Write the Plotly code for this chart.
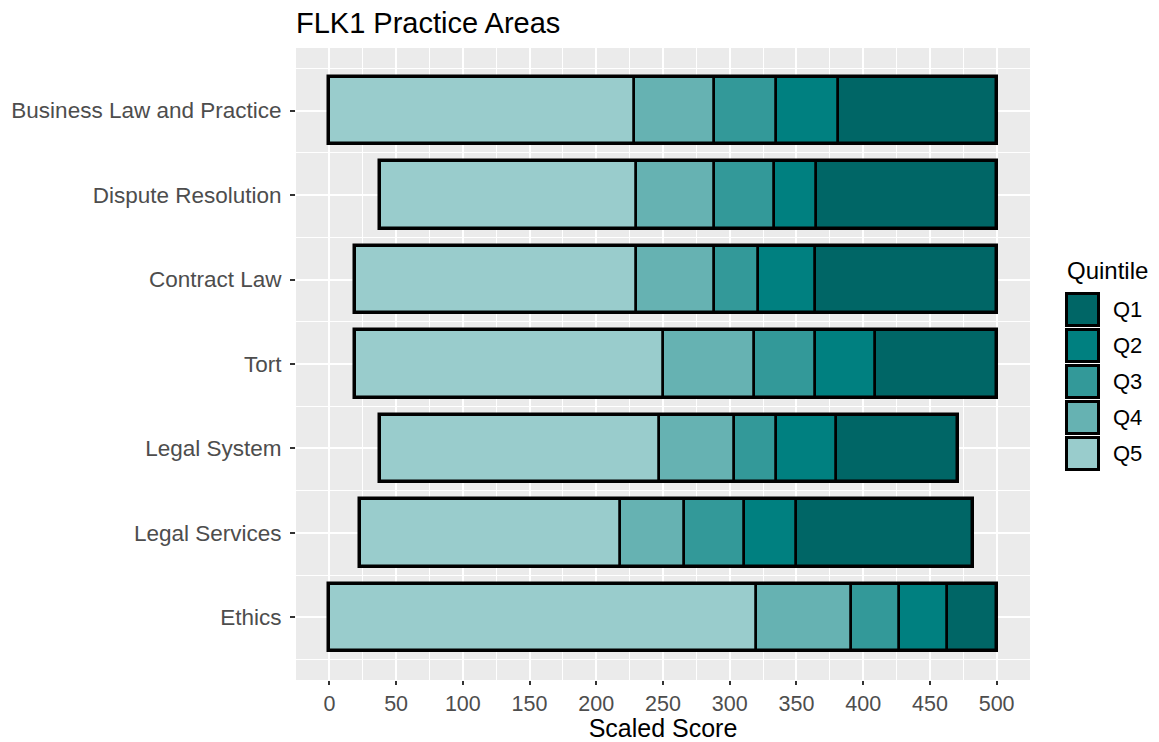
import plotly.graph_objects as go

# ---- data ----
categories = ["Business Law and Practice", "Dispute Resolution", "Contract Law", "Tort",
              "Legal System", "Legal Services", "Ethics"]
start  = [0, 38, 19, 19, 38, 23, 0]
q5_end = [228, 230, 230, 250, 247, 218, 320]
q4_end = [288, 288, 288, 318, 303, 266, 391]
q3_end = [335, 333, 321, 364, 335, 311, 427]
q2_end = [381, 365, 364, 409, 380, 350, 463]
q1_end = [500, 500, 500, 500, 471, 482, 500]

quintiles = ["Q1", "Q2", "Q3", "Q4", "Q5"]
colors = ["#006666", "#008080", "#339999", "#66B2B2", "#99CCCC"]
x_ticks = [0, 50, 100, 150, 200, 250, 300, 350, 400, 450, 500]

FONT = "Arial, Liberation Sans, sans-serif"

# segment bases/ends keyed by quintile
bounds = {
    "Q5": (start, q5_end),
    "Q4": (q5_end, q4_end),
    "Q3": (q4_end, q3_end),
    "Q2": (q3_end, q2_end),
    "Q1": (q2_end, q1_end),
}
ypos = list(range(len(categories)))

fig = go.Figure()
for q, col in zip(quintiles[::-1], colors[::-1]):
    lo, hi = bounds[q]
    fig.add_trace(go.Bar(
        y=ypos, x=[h - l for l, h in zip(lo, hi)], base=lo, orientation="h",
        width=0.8, name=q, marker=dict(color=col, line=dict(color="black", width=2.5)),
        showlegend=False,
    ))
# outer outline
fig.add_trace(go.Bar(
    y=ypos, x=[h - l for l, h in zip(start, q1_end)], base=start, orientation="h",
    width=0.8, marker=dict(color="rgba(0,0,0,0)", line=dict(color="black", width=3.5)),
    showlegend=False, hoverinfo="skip",
))

# page has an 8px body margin; work in screen coords and subtract it
OFF = 8
W, H = 1159 - OFF, 742 - OFF
L, R, T, B = 296 - OFF, 1030 - OFF, 48 - OFF, 680 - OFF

def px(x):
    return (x - OFF - L) / (R - L)

def py(y):
    return (B - (y - OFF)) / (B - T)

shapes = []
annotations = []
# legend title
annotations.append(dict(text="Quintile", xref="paper", yref="paper", x=px(1065), y=py(270),
                        xanchor="left", yanchor="middle", showarrow=False,
                        font=dict(family=FONT, size=24, color="black")))
for i, (q, col) in enumerate(zip(quintiles, colors)):
    top = 292 + i * 36
    shapes.append(dict(type="rect", xref="paper", yref="paper",
                       x0=px(1066.5), x1=px(1098.5), y0=py(top + 1.5), y1=py(top + 33.5),
                       fillcolor=col, line=dict(color="black", width=3)))
    annotations.append(dict(text=q, xref="paper", yref="paper", x=px(1111), y=py(top + 17.5),
                            xanchor="left", yanchor="middle", showarrow=False,
                            font=dict(family=FONT, size=22, color="black")))

fig.update_layout(
    width=W, height=H,
    margin=dict(l=L, r=W - R, t=T, b=H - B, autoexpand=False),
    paper_bgcolor="white", plot_bgcolor="#EBEBEB",
    barmode="overlay",
    bargap=0,
    showlegend=False,
    title=dict(text="FLK1 Practice Areas", xref="paper", x=0, xanchor="left",
               yref="container", y=1 - (23 - OFF) / H, yanchor="middle",
               font=dict(family=FONT, size=29, color="black")),
    shapes=shapes, annotations=annotations,
    font=dict(family=FONT),
)
fig.update_xaxes(
    automargin=False,
    range=[-25, 525], tickvals=x_ticks, ticktext=[str(v) for v in x_ticks],
    showgrid=True, gridcolor="white", gridwidth=1.6, zeroline=False,
    minor=dict(tick0=25, dtick=50, showgrid=True, gridcolor="white", gridwidth=0.8, ticks=""),
    ticks="outside", ticklen=4, tickwidth=1.6, tickcolor="#333333",
    tickfont=dict(family=FONT, size=21.5, color="#4D4D4D"),
    title=dict(text="Scaled Score", font=dict(family=FONT, size=25, color="black"), standoff=0),
    showline=False,
)
fig.update_yaxes(
    automargin=False,
    range=[len(categories) - 1 + 0.74, -0.74], tickvals=ypos, ticktext=categories,
    showgrid=True, gridcolor="white", gridwidth=1.6, zeroline=False,
    minor=dict(tick0=0.5, dtick=1, showgrid=True, gridcolor="white", gridwidth=0.8, ticks=""),
    ticks="outside", ticklen=5, tickwidth=1.6, tickcolor="#333333",
    ticklabelstandoff=4,
    tickfont=dict(family=FONT, size=22.5, color="#4D4D4D"),
    showline=False,
)

fig.write_html("out.html")
